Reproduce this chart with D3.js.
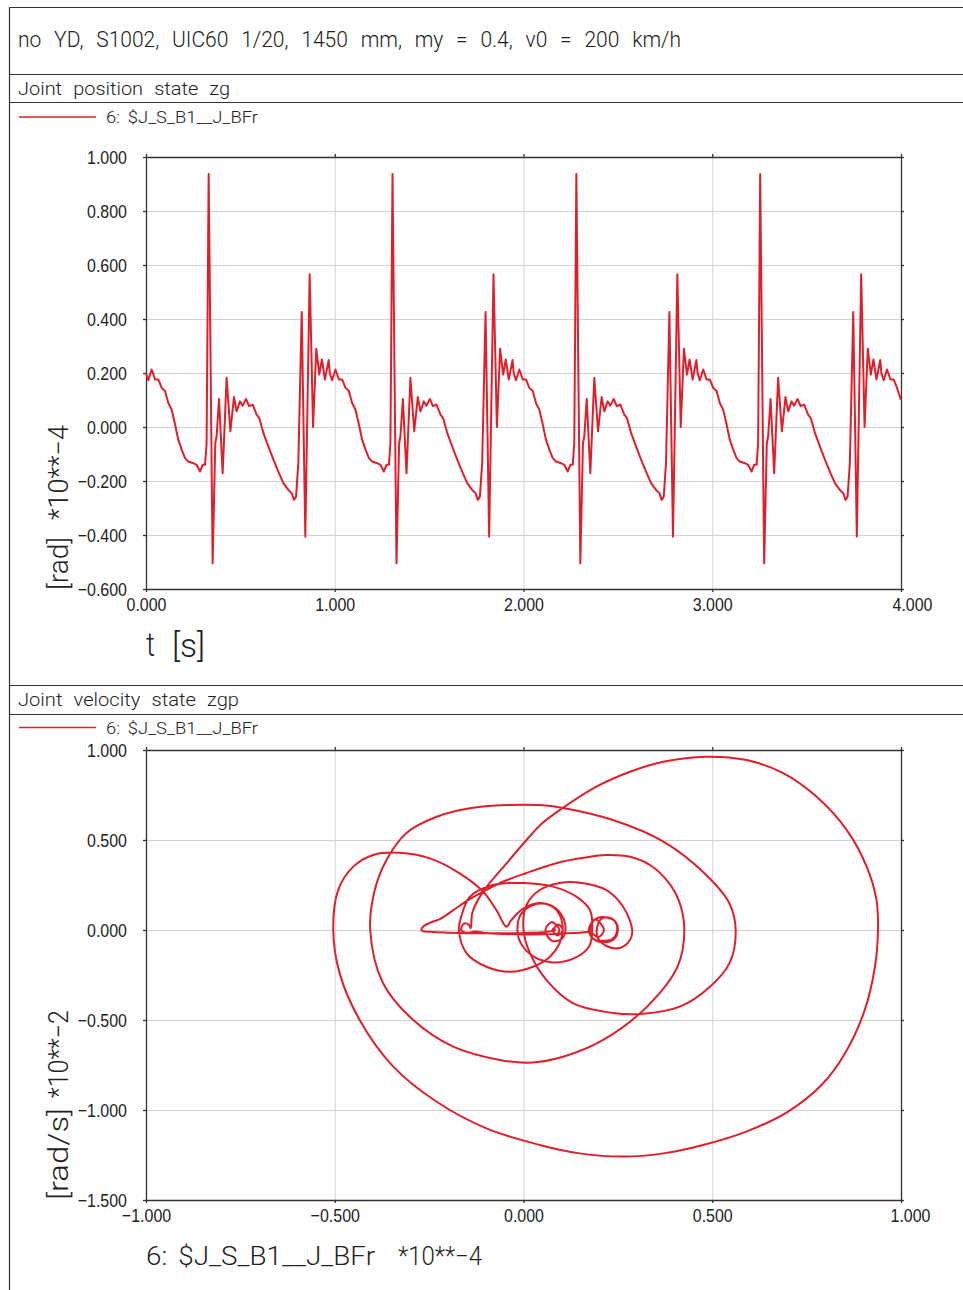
<!DOCTYPE html>
<html>
<head>
<meta charset="utf-8">
<script src="https://cdn.jsdelivr.net/npm/d3@7"></script>
<style>
body { margin: 0; background: #fff; }
svg { display: block; font-family: Roboto, "DejaVu Sans", sans-serif; font-weight: 300; }
text { fill: #222; white-space: pre; }
.frame line { stroke: #333; stroke-width: 1.2; }
.grid line { stroke: #d2d2d2; stroke-width: 1; }
.grid path { display: none; }
.axis path, .axis line { stroke: #333; stroke-width: 1.3; }
.axis text { font-size: 19px; }
.curve { fill: none; stroke: #e11f2b; stroke-width: 2; stroke-linejoin: round; }
.legend line { stroke: #e11f2b; stroke-width: 1.5; }
</style>
</head>
<body>
<svg id="chart" width="963" height="1290"></svg>
<script>
/*********************************************************\
* Joint states of $J_S_B1__J_BFr                          *
\*********************************************************/

var headerText = 'no YD, S1002, UIC60 1/20, 1450 mm, my = 0.4, v0 = 200 km/h';
var seriesName = '6: $J_S_B1__J_BFr';

// joint position zg over time (t in s, angle in rad *10**-4)
var timeSeconds = [
	0.000,0.012,0.030,0.048,0.065,0.083,0.101,0.118,0.136,0.154,0.171,0.189,0.207,0.224,0.251,0.268,0.286,0.300,0.313,0.321,
	0.332,0.353,0.367,0.374,0.387,0.406,0.427,0.447,0.466,0.480,0.498,0.512,0.530,0.546,0.565,0.586,0.600,0.622,0.648,0.675,
	0.701,0.728,0.754,0.772,0.784,0.795,0.807,0.825,0.844,0.867,0.885,0.902,0.918,0.932,0.948,0.968,
	0.974,0.986,1.004,1.022,1.039,1.057,1.075,1.092,1.110,1.128,1.145,1.163,1.181,1.198,1.225,1.242,1.260,1.274,1.287,1.295,
	1.306,1.327,1.341,1.348,1.361,1.380,1.401,1.421,1.440,1.454,1.472,1.486,1.504,1.520,1.539,1.560,1.574,1.596,1.622,1.649,
	1.675,1.702,1.728,1.746,1.758,1.769,1.781,1.799,1.818,1.841,1.859,1.876,1.892,1.906,1.922,1.942,
	1.948,1.960,1.978,1.996,2.013,2.031,2.049,2.066,2.084,2.102,2.119,2.137,2.155,2.172,2.199,2.216,2.234,2.248,2.261,2.269,
	2.280,2.301,2.315,2.322,2.335,2.354,2.375,2.395,2.414,2.428,2.446,2.460,2.478,2.494,2.513,2.534,2.548,2.570,2.596,2.623,
	2.649,2.676,2.702,2.720,2.732,2.743,2.755,2.773,2.792,2.815,2.833,2.850,2.866,2.880,2.896,2.916,
	2.922,2.934,2.952,2.970,2.987,3.005,3.023,3.040,3.058,3.076,3.093,3.111,3.129,3.146,3.173,3.190,3.208,3.222,3.235,3.243,
	3.254,3.275,3.289,3.296,3.309,3.328,3.349,3.369,3.388,3.402,3.420,3.434,3.452,3.468,3.487,3.508,3.522,3.544,3.570,3.597,
	3.623,3.650,3.676,3.694,3.706,3.717,3.729,3.747,3.766,3.789,3.807,3.824,3.840,3.854,3.870,3.890,
	3.896,3.908,3.926,3.944,3.961,3.979,4.000
];
var jointAngle = [
	0.200,0.173,0.213,0.176,0.176,0.145,0.133,0.089,0.064,0.009,-0.047,-0.084,-0.115,-0.128,-0.134,-0.140,-0.165,-0.140,-0.140,-0.060,
	0.937,-0.505,-0.060,-0.035,0.104,-0.171,0.182,-0.016,0.111,0.058,0.095,0.079,0.104,0.077,0.083,0.046,0.033,-0.022,-0.072,-0.121,
	-0.165,-0.208,-0.233,-0.245,-0.270,-0.258,-0.134,0.426,-0.406,0.566,0.000,0.290,0.194,0.250,0.176,0.248,
	0.200,0.173,0.213,0.176,0.176,0.145,0.133,0.089,0.064,0.009,-0.047,-0.084,-0.115,-0.128,-0.134,-0.140,-0.165,-0.140,-0.140,-0.060,
	0.937,-0.505,-0.060,-0.035,0.104,-0.171,0.182,-0.016,0.111,0.058,0.095,0.079,0.104,0.077,0.083,0.046,0.033,-0.022,-0.072,-0.121,
	-0.165,-0.208,-0.233,-0.245,-0.270,-0.258,-0.134,0.426,-0.406,0.566,0.000,0.290,0.194,0.250,0.176,0.248,
	0.200,0.173,0.213,0.176,0.176,0.145,0.133,0.089,0.064,0.009,-0.047,-0.084,-0.115,-0.128,-0.134,-0.140,-0.165,-0.140,-0.140,-0.060,
	0.937,-0.505,-0.060,-0.035,0.104,-0.171,0.182,-0.016,0.111,0.058,0.095,0.079,0.104,0.077,0.083,0.046,0.033,-0.022,-0.072,-0.121,
	-0.165,-0.208,-0.233,-0.245,-0.270,-0.258,-0.134,0.426,-0.406,0.566,0.000,0.290,0.194,0.250,0.176,0.248,
	0.200,0.173,0.213,0.176,0.176,0.145,0.133,0.089,0.064,0.009,-0.047,-0.084,-0.115,-0.128,-0.134,-0.140,-0.165,-0.140,-0.140,-0.060,
	0.937,-0.505,-0.060,-0.035,0.104,-0.171,0.182,-0.016,0.111,0.058,0.095,0.079,0.104,0.077,0.083,0.046,0.033,-0.022,-0.072,-0.121,
	-0.165,-0.208,-0.233,-0.245,-0.270,-0.258,-0.134,0.426,-0.406,0.566,0.000,0.290,0.194,0.250,0.176,0.248,
	0.200,0.173,0.213,0.176,0.176,0.145,0.100
];
var timeTicks = [0, 1, 2, 3, 4];
var angleTicks = [-0.6, -0.4, -0.2, 0, 0.2, 0.4, 0.6, 0.8, 1.0];

// joint velocity zgp against position (position *10**-4, velocity *10**-2)
var phasePosition = [
	0.200,0.185,0.173,0.190,0.213,0.198,0.176,0.150,0.100,0.050,0.000,-0.050,-0.100,-0.128,-0.150,-0.165,-0.158,-0.145,-0.140,
	-0.135,-0.107,-0.045,0.008,0.048,0.100,0.193,0.282,0.370,0.485,0.591,0.688,0.776,0.856,0.909,0.935,0.939,
	0.931,0.903,0.853,0.790,0.700,0.590,0.476,0.370,0.264,0.149,0.043,-0.098,-0.230,-0.345,-0.434,-0.487,-0.504,
	-0.491,-0.451,-0.398,-0.328,-0.248,-0.169,-0.107,-0.072,-0.045,
	-0.032,0.000,0.043,0.078,0.096,0.104,
	0.096,0.070,0.025,-0.036,-0.098,-0.151,-0.171,
	-0.165,-0.142,-0.081,0.000,0.078,0.140,0.176,0.182,
	0.174,0.136,0.078,0.025,-0.008,-0.016,
	-0.008,0.025,0.070,0.101,0.111,
	0.101,0.075,0.058,0.075,0.095,0.087,0.079,0.092,0.104,0.090,0.077,0.081,0.083,
	0.050,0.000,-0.050,-0.100,-0.150,-0.200,-0.245,-0.270,
	-0.266,-0.248,-0.222,-0.186,-0.151,-0.107,-0.055,0.008,0.087,0.149,0.220,0.282,0.335,0.382,0.412,0.426,
	0.408,0.330,0.211,0.105,0.017,-0.063,-0.186,-0.292,-0.372,-0.406,
	-0.394,-0.363,-0.310,-0.230,-0.142,-0.045,0.043,0.105,0.237,0.372,0.482,0.545,0.562,
	0.546,0.494,0.414,0.308,0.237,0.131,0.061,0.017,0.000,
	0.008,0.043,0.096,0.149,0.220,0.264,0.288,
	0.282,0.255,0.220,0.197,0.194,
	0.205,0.225,0.244,0.250,
	0.240,0.213,0.186,0.176,
	0.190,0.220,0.242,0.248,
	0.235,0.200
];
var phaseVelocity = [
	-0.060,-0.050,0.000,0.060,0.000,-0.040,-0.012,-0.015,-0.020,-0.024,-0.025,-0.022,-0.016,-0.008,-0.015,0.000,0.035,0.030,0.010,
	0.100,0.213,0.370,0.500,0.590,0.672,0.796,0.879,0.935,0.963,0.944,0.872,0.741,0.556,0.352,0.167,0.000,
	-0.204,-0.450,-0.680,-0.860,-1.010,-1.120,-1.194,-1.241,-1.259,-1.241,-1.194,-1.102,-0.954,-0.759,-0.500,-0.241,0.000,
	0.222,0.352,0.417,0.429,0.398,0.315,0.213,0.111,0.018,
	0.056,0.120,0.150,0.128,0.083,0.000,
	-0.072,-0.148,-0.204,-0.232,-0.204,-0.128,0.000,
	0.074,0.185,0.250,0.261,0.241,0.185,0.111,0.000,
	-0.090,-0.155,-0.180,-0.145,-0.070,0.000,
	0.083,0.139,0.139,0.083,0.000,
	-0.050,-0.060,0.000,0.045,0.000,-0.025,0.000,0.030,0.000,-0.030,0.000,0.010,0.000,
	-0.012,-0.016,-0.018,-0.018,-0.018,-0.015,-0.010,-0.003,
	0.018,0.040,0.060,0.110,0.160,0.213,0.268,0.317,0.371,0.398,0.417,0.407,0.361,0.270,0.160,0.000,
	-0.204,-0.420,-0.611,-0.704,-0.737,-0.722,-0.648,-0.500,-0.296,0.000,
	0.222,0.389,0.539,0.629,0.676,0.694,0.694,0.678,0.611,0.490,0.310,0.150,0.000,
	-0.183,-0.315,-0.426,-0.467,-0.461,-0.406,-0.278,-0.128,0.000,
	0.139,0.222,0.261,0.263,0.222,0.129,0.000,
	-0.056,-0.100,-0.089,-0.044,0.000,
	0.060,0.070,0.045,0.000,
	-0.050,-0.068,-0.050,0.000,
	0.060,0.070,0.048,0.000,
	-0.050,-0.060
];
var positionTicks = [-1, -0.5, 0, 0.5, 1];
var velocityTicks = [-1.5, -1, -0.5, 0, 0.5, 1];

//------------------------------------------------------------------------------

function squeeze(selection, factor)
{
	selection.each(function () {
		var w = this.getComputedTextLength();
		d3.select(this)
			.attr('textLength', w * factor)
			.attr('lengthAdjust', 'spacingAndGlyphs');
	});
}

//------------------------------------------------------------------------------

function Plot(svg, rect, xDomain, yDomain)
{
	this.svg = svg;
	this.rect = rect;
	this.x = d3.scaleLinear().domain(xDomain).range([rect.left, rect.right]);
	this.y = d3.scaleLinear().domain(yDomain).range([rect.bottom, rect.top]);
	this.root = svg.append('g');
}

//- - - - - - - - - - - - - - - - - - - - - - - - - - - - - - - - - - - - - - - 

Plot.prototype.drawGrid = function(xTicks, yTicks)
{
	var r = this.rect,
		grid = this.root.append('g').attr('class', 'grid');

	grid.append('g')
		.attr('transform', 'translate(0,' + r.bottom + ')')
		.call(d3.axisBottom(this.x).tickValues(xTicks).tickFormat('')
			.tickSize(-(r.bottom - r.top)))
	;
	grid.append('g')
		.attr('transform', 'translate(' + r.left + ',0)')
		.call(d3.axisLeft(this.y).tickValues(yTicks).tickFormat('')
			.tickSize(-(r.right - r.left)))
	;
}

//- - - - - - - - - - - - - - - - - - - - - - - - - - - - - - - - - - - - - - - 

Plot.prototype.drawAxes = function(xTicks, yTicks, lastShift)
{
	var r = this.rect,
		fmt = d3.format('.3f'),
		axes = this.root.append('g').attr('class', 'axis'),
		bottom;

	bottom = axes.append('g')
		.attr('transform', 'translate(0,' + r.bottom + ')')
		.call(d3.axisBottom(this.x).tickValues(xTicks).tickFormat(fmt)
			.tickSizeInner(3).tickSizeOuter(0).tickPadding(6))
	;
	axes.append('g')
		.attr('transform', 'translate(' + r.left + ',0)')
		.call(d3.axisLeft(this.y).tickValues(yTicks).tickFormat(fmt)
			.tickSizeInner(3).tickSizeOuter(0).tickPadding(16))
	;
	axes.append('g')
		.attr('transform', 'translate(0,' + r.top + ')')
		.call(d3.axisTop(this.x).tickValues(xTicks).tickFormat('')
			.tickSizeInner(3).tickSizeOuter(0))
	;
	axes.append('g')
		.attr('transform', 'translate(' + r.right + ',0)')
		.call(d3.axisRight(this.y).tickValues(yTicks).tickFormat('')
			.tickSizeInner(3).tickSizeOuter(0))
	;
	axes.selectAll('.tick text').attr('fill', '#222');
	squeeze(axes.selectAll('.tick text'), 0.84);

	// the last label on the time / position axis sits a little right of its tick
	bottom.selectAll('.tick text')
		.filter(function (d, i, nodes) { return i == nodes.length - 1; })
		.attr('dx', lastShift);
}

//- - - - - - - - - - - - - - - - - - - - - - - - - - - - - - - - - - - - - - - 

Plot.prototype.drawCurve = function(xs, ys, curve)
{
	var self = this,
		points = d3.zip(xs, ys);

	this.root.append('path')
		.datum(points)
		.attr('class', 'curve')
		.attr('d', d3.line()
			.x(function (d) { return self.x(d[0]); })
			.y(function (d) { return self.y(d[1]); })
			.curve(curve))
	;
}

//------------------------------------------------------------------------------

function label(svg, text, x, y, size, length, gap)
{
	var t = svg.append('text')
		.attr('x', x)
		.attr('y', y)
		.attr('font-size', size)
		.style('word-spacing', (gap || 0) + 'px')
		.text(text);
	if (length) t.attr('textLength', length).attr('lengthAdjust', 'spacingAndGlyphs');
	return t;
}

function sideLabel(svg, parts, x, y, size)
{
	var g = svg.append('g')
		.attr('transform', 'translate(' + x + ',' + y + ') rotate(-90)');
	parts.forEach(function (p) {
		label(g, p.text, p.at, 0, size, p.length);
	});
}

//------------------------------------------------------------------------------

var svg = d3.select('#chart');

var frame = svg.append('g').attr('class', 'frame');
frame.append('line').attr('x1', 9.5).attr('y1', 7).attr('x2', 9.5).attr('y2', 1290);
[7.5, 74.5, 102.5, 685.5, 714.5].forEach(function (y) {
	frame.append('line').attr('x1', 9).attr('y1', y).attr('x2', 963).attr('y2', y);
});

label(svg, headerText, 18, 47, 22, 663, 8);
label(svg, 'Joint position state zg', 18, 95, 19, 212, 6);
label(svg, 'Joint velocity state zgp', 18, 706, 19, 221, 6);

var legend = svg.append('g').attr('class', 'legend');
[117, 727.5].forEach(function (y) {
	legend.append('line').attr('x1', 19).attr('y1', y).attr('x2', 96).attr('y2', y);
	label(legend, seriesName, 106, y + 6, 17, 152, 3);
});

// upper plot: position over time
var upper = new Plot(svg, {left: 146, right: 901, top: 157, bottom: 589}, [0, 4], [-0.6, 1]);
upper.drawGrid(timeTicks, angleTicks);
upper.drawAxes(timeTicks, angleTicks, 11);
upper.drawCurve(timeSeconds, jointAngle, d3.curveLinear);

label(svg, 't', 146, 656, 33, 9);
label(svg, '[s]', 172, 657, 33, 33);
sideLabel(svg, [{text: '[rad]', at: 0, length: 53}, {text: '*10**\u22124', at: 70, length: 95}], 68, 590, 27);

// lower plot: velocity against position
var lower = new Plot(svg, {left: 146, right: 901, top: 750, bottom: 1200}, [-1, 1], [-1.5, 1]);
lower.drawGrid(positionTicks, velocityTicks);
lower.drawAxes(positionTicks, velocityTicks, 9);
lower.drawCurve(phasePosition, phaseVelocity, d3.curveCatmullRom.alpha(0.5));

label(svg, seriesName, 146, 1265, 26, 229, 4);
label(svg, '*10**\u22124', 398, 1265, 26, 84);
sideLabel(svg, [{text: '[rad/s]', at: 0, length: 92}, {text: '*10**\u22122', at: 102, length: 88}], 68, 1200, 27);
</script>
</body>
</html>
